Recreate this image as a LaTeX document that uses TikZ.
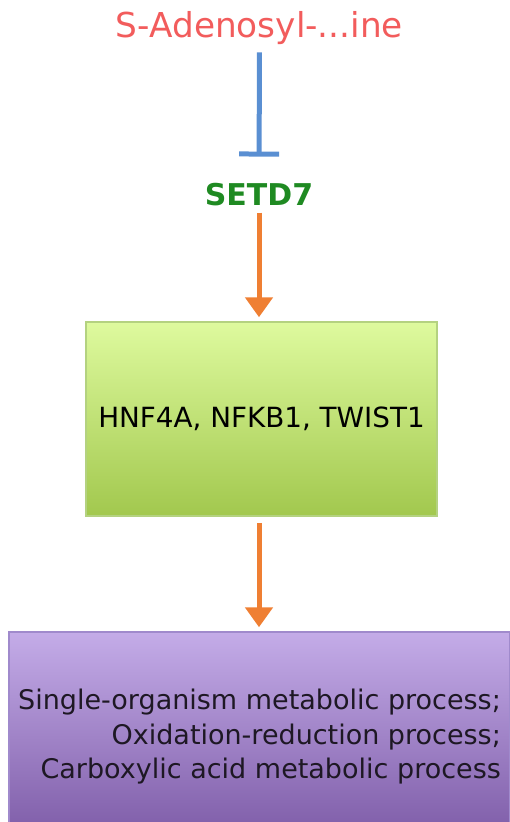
\documentclass[tikz,border=0pt]{standalone}
\usepackage{fontspec}
\setmainfont{DejaVu Sans}
\usetikzlibrary{arrows.meta}

\definecolor{samred}{HTML}{F25C5C}
\definecolor{setdgreen}{HTML}{1F8A22}
\definecolor{inhblue}{HTML}{5A8FD2}
\definecolor{actorange}{HTML}{EF7F33}

\begin{document}
\begin{tikzpicture}[
    x=1pt, y=-1pt,
    txt_label/.style={inner sep=2pt},
    inhibit/.style={draw=inhblue, line width=5pt, -{Bar[width=40pt, line width=5pt]}},
    activate/.style={draw=actorange, line width=5pt, -{Triangle[width=27pt, length=20pt]}},
    gene_box/.style={draw={rgb,255:red,180;green,210;blue,128}, line width=1.5pt, top color={rgb,255:red,222;green,250;blue,158}, bottom color={rgb,255:red,162;green,200;blue,78}},
    proc_box/.style={draw={rgb,255:red,160;green,138;blue,204}, line width=1.5pt, top color={rgb,255:red,196;green,172;blue,232}, bottom color={rgb,255:red,124;green,90;blue,166}}
]
    \useasboundingbox (0,0) rectangle (510,822); % page size
    \clip (0,0) rectangle (510,822);

    % metabolite and enzyme
    \node[txt_label, anchor=base, text=samred, font=\fontsize{34.3}{40}\selectfont] (sam) at (259.5,37) {S-Adenosyl-...ine};
    \node[txt_label, anchor=base, text=setdgreen, font=\fontsize{30}{36}\selectfont\bfseries] (setd) at (259,205) {SETD7};

    % boxes
    \node[gene_box, minimum width=351pt, minimum height=194pt, font=\fontsize{27.8}{33}\selectfont] (genes) at (261.5,419) {HNF4A, NFKB1, TWIST1};
    \node[proc_box, minimum width=501pt, minimum height=210pt, align=right, font=\fontsize{27}{34.5}\selectfont, text={rgb,255:red,30;green,24;blue,36}] (process) at (259.5,737)
        {Single-organism metabolic process;\\Oxidation-reduction process;\\Carboxylic acid metabolic process};

    % connectors
    \draw[inhibit, shorten <=6pt, shorten >=24pt] (sam.south) -- (setd.north);
    \draw[activate, shorten <=5pt, shorten >=4pt] (setd.south) -- (setd.south |- genes.north);
    \draw[activate, shorten <=6pt, shorten >=4pt] (setd.south |- genes.south) -- (setd.south |- process.north);

\end{tikzpicture}
\end{document}
